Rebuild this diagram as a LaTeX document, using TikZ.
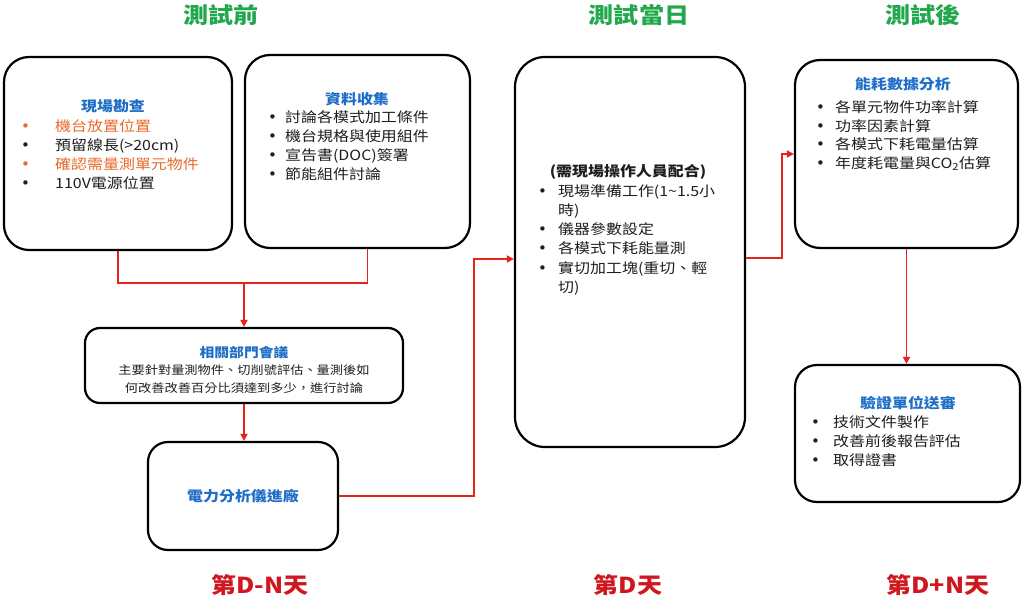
\documentclass[tikz,border=0pt]{standalone}
\usepackage{fontspec}
\setmainfont{Noto Sans CJK TC}[FakeStretch=1.14]
\newfontfamily\dejavu{DejaVu Sans}
\usetikzlibrary{arrows.meta,calc}
\definecolor{tgreen}{HTML}{22A84C}
\definecolor{dred}{HTML}{D0161E}
\definecolor{lred}{HTML}{E5231B}
\definecolor{hblue}{HTML}{1E6EC8}
\definecolor{orng}{HTML}{E8692A}
\definecolor{igray}{HTML}{1E1E1E}
\newcommand\bl[1]{\makebox[#1][l]{{\dejavu\fontsize{15}{19}\selectfont •}}}
\begin{document}
\begin{tikzpicture}[x=1pt,y=-1pt,
  box/.style={draw=black,line width=2.2pt,fill=white,rounded corners=#1,inner sep=0},
  box/.default=22pt,
  conn/.style={draw=lred,line width=1.8pt},
  arr/.style={conn,-{Triangle[length=7pt,width=7pt]}},
  hdr/.style={font=\fontsize{14}{19}\bfseries\selectfont,text=hblue,inner sep=0,anchor=base},
  itm/.style={font=\fontsize{14}{19}\selectfont,text=igray,inner sep=0,anchor=base west},
  ttl/.style={font=\fontsize{22}{26}\bfseries\selectfont,text=tgreen,inner sep=0},
  day/.style={font=\fontsize{22}{26}\bfseries\selectfont,text=dred,inner sep=0}]
\useasboundingbox[fill=white] (0,0) rectangle (1024,601);

% titles
\node[ttl] (t1) at (221,15) {測試前};
\node[ttl] (t2) at (639,15) {測試當日};
\node[ttl] (t3) at (923,15) {測試後};
\node[day] (d1) at (260,585) {第D-N天};
\node[day] (d2) at (628,585) {第D天};
\node[day] (d3) at (938,585) {第D+N天};

% boxes
\node[box=25pt,minimum width=228pt,minimum height=193pt] (A) at (118,153.5) {};
\node[box=25pt,minimum width=225pt,minimum height=193pt] (B) at (357.5,151.5) {};
\node[box=15pt,minimum width=318pt,minimum height=75pt] (C) at (244,365.5) {};
\node[box=20pt,minimum width=190pt,minimum height=108pt,
      font=\fontsize{14}{19}\bfseries\selectfont,text=hblue] (D) at (243,496) {電力分析儀進廠};
\node[box=30pt,minimum width=230pt,minimum height=390pt] (E) at (630,252) {};
\node[box=25pt,minimum width=223pt,minimum height=188pt] (F) at (906.5,154) {};
\node[box=22pt,minimum width=225pt,minimum height=137pt] (G) at (907.5,433.5) {};

% box A
\node[hdr] (ah) at (113,112) {現場勘查};
\node[itm,text=orng] (a1) at (21,132) {\bl{34pt}機台放置位置};
\node[itm] (a2) at (21,151) {\bl{34pt}預留線長(>20cm)};
\node[itm,text=orng] (a3) at (21,170) {\bl{34pt}確認需量測單元物件};
\node[itm] (a4) at (21,189) {\bl{34pt}110V電源位置};

% box B
\node[hdr] (bh) at (357,105) {資料收集};
\node[itm] (b1) at (268,123) {\bl{17pt}討論各模式加工條件};
\node[itm] (b2) at (268,141.7) {\bl{17pt}機台規格與使用組件};
\node[itm] (b3) at (268,160.4) {\bl{17pt}宣告書(DOC)簽署};
\node[itm] (b4) at (268,179.1) {\bl{17pt}節能組件討論};

% box C
\node[hdr,font=\fontsize{13}{18}\bfseries\selectfont] (ch) at (244,357) {相關部門會議};
\node[itm,anchor=base,font=\fontsize{11.6}{18}\selectfont] (c1) at (244,374.5) {主要針對量測物件、切削號評估、量測後如};
\node[itm,anchor=base,font=\fontsize{11.6}{18}\selectfont] (c2) at (244,392.5) {何改善改善百分比須達到多少，進行討論};

% box E
\node[itm,anchor=base,font=\fontsize{14}{19}\bfseries\selectfont] (eh) at (628,177) {(需現場操作人員配合)};
\node[itm] (e1) at (538,197) {\bl{20pt}現場準備工作(1\textasciitilde1.5小};
\node[itm] (e2) at (558,216) {時)};
\node[itm] (e3) at (538,235) {\bl{20pt}儀器參數設定};
\node[itm] (e4) at (538,254) {\bl{20pt}各模式下耗能量測};
\node[itm] (e5) at (538,273) {\bl{20pt}實切加工塊(重切、輕};
\node[itm] (e6) at (558,292) {切)};

% box F
\node[hdr] (fh) at (903,90) {能耗數據分析};
\node[itm] (f1) at (816,113) {\bl{19pt}各單元物件功率計算};
\node[itm] (f2) at (816,131.5) {\bl{19pt}功率因素計算};
\node[itm] (f3) at (816,150) {\bl{19pt}各模式下耗電量估算};
\node[itm] (f4) at (816,168.5) {\bl{19pt}年度耗電量與CO\textsubscript{2}估算};

% box G
\node[hdr] (gh) at (908,408) {驗證單位送審};
\node[itm] (g1) at (811,427) {\bl{22pt}技術文件製作};
\node[itm] (g2) at (811,446) {\bl{22pt}改善前後報告評估};
\node[itm] (g3) at (811,465) {\bl{22pt}取得證書};

% connectors
\coordinate (jm) at (C.north |- 0,283);
\draw[conn] (A.south) |- (jm) -| ([xshift=10pt]B.south);
\draw[arr] (jm) -- (C.north);
\draw[arr] (C.south) -- (C.south |- D.north);
\coordinate (k1) at (474,496);
\draw[arr] (D.east) -- (k1) |- ([yshift=-7pt]E.west);
\coordinate (k2) at (782,258);
\draw[arr] ([yshift=-6pt]E.east) -- (k2) |- (F.west);
\draw[arr] (F.south) -- (F.south |- G.north);
\end{tikzpicture}
\end{document}
